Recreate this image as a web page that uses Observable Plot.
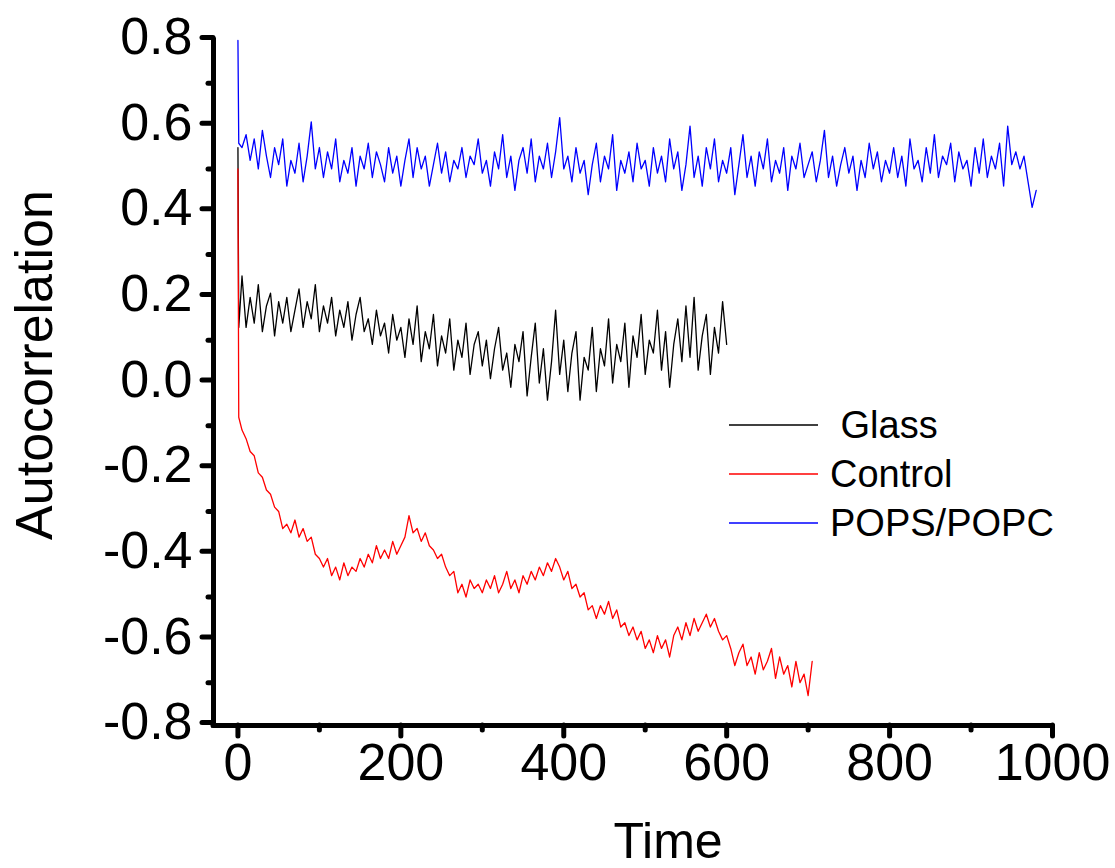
<!DOCTYPE html>
<html>
<head>
<meta charset="utf-8">
<script src="https://cdn.jsdelivr.net/npm/d3@7"></script>
<script src="https://cdn.jsdelivr.net/npm/@observablehq/plot@0.6"></script>
<style>
  html, body { margin: 0; padding: 0; background: #fff; }
  #chart svg text { white-space: pre; }
</style>
</head>
<body>
<div id="chart"></div>
<script>
// ---- data ----
const seriesNames = [" Glass", "Control", "POPS/POPC"];
const seriesColors = ["#000000", "#ff0000", "#0000ff"];

const xTicks = [0, 200, 400, 600, 800, 1000];
const xMinorTicks = [100, 300, 500, 700, 900];
const yTicks = [-0.8, -0.6, -0.4, -0.2, 0.0, 0.2, 0.4, 0.6, 0.8];
const yMinorTicks = [-0.7, -0.5, -0.3, -0.1, 0.1, 0.3, 0.5, 0.7];

const xLabel = "Time";
const yLabel = "Autocorrelation";

// first two samples (the initial spike) at t = 0 and t = 1, then every 5 time units from t = 5
const glassStart = [0.55, 0.13];
const glassValues = [
  0.25,0.13,0.20,0.14,0.23,0.12,0.18,0.21,0.11,0.19,
  0.14,0.20,0.12,0.17,0.22,0.13,0.19,0.15,0.23,0.12,
  0.18,0.14,0.20,0.11,0.17,0.13,0.19,0.10,0.16,0.20,
  0.12,0.15,0.09,0.17,0.11,0.14,0.07,0.16,0.10,0.13,
  0.06,0.15,0.09,0.18,0.05,0.12,0.08,0.16,0.04,0.11,
  0.07,0.15,0.03,0.10,0.06,0.14,0.02,0.09,0.12,0.04,
  0.10,0.01,0.08,0.13,0.03,0.07,-0.01,0.09,0.05,0.12,
  -0.03,0.06,0.14,0.00,0.08,-0.04,0.05,0.17,0.02,0.10,
  -0.02,0.07,0.12,-0.04,0.06,0.03,0.13,-0.02,0.08,0.04,
  0.15,0.00,0.09,0.05,0.14,-0.01,0.11,0.06,0.16,0.02,
  0.10,0.07,0.17,0.03,0.12,-0.01,0.09,0.15,0.05,0.18,
  0.06,0.20,0.03,0.11,0.16,0.02,0.13,0.07,0.19,0.09
];

const controlStart = [0.50, -0.08];
const controlValues = [
  -0.11,-0.13,-0.16,-0.17,-0.21,-0.22,-0.25,-0.26,-0.29,-0.30,
  -0.34,-0.33,-0.35,-0.32,-0.36,-0.34,-0.37,-0.36,-0.40,-0.41,
  -0.43,-0.41,-0.45,-0.43,-0.46,-0.42,-0.45,-0.43,-0.44,-0.41,
  -0.43,-0.40,-0.42,-0.38,-0.41,-0.39,-0.41,-0.37,-0.40,-0.38,
  -0.36,-0.31,-0.35,-0.34,-0.37,-0.35,-0.38,-0.39,-0.41,-0.40,
  -0.43,-0.45,-0.44,-0.49,-0.47,-0.50,-0.46,-0.48,-0.47,-0.49,
  -0.46,-0.48,-0.45,-0.49,-0.47,-0.44,-0.48,-0.46,-0.49,-0.45,
  -0.47,-0.44,-0.46,-0.43,-0.45,-0.42,-0.44,-0.41,-0.43,-0.46,
  -0.44,-0.48,-0.47,-0.50,-0.49,-0.53,-0.52,-0.55,-0.52,-0.54,
  -0.51,-0.55,-0.53,-0.57,-0.56,-0.59,-0.57,-0.60,-0.58,-0.62,
  -0.60,-0.63,-0.59,-0.62,-0.60,-0.64,-0.59,-0.57,-0.60,-0.56,
  -0.59,-0.55,-0.58,-0.56,-0.54,-0.57,-0.55,-0.58,-0.60,-0.59,
  -0.62,-0.66,-0.63,-0.61,-0.66,-0.64,-0.68,-0.63,-0.67,-0.65,
  -0.62,-0.69,-0.64,-0.68,-0.66,-0.71,-0.65,-0.70,-0.68,-0.73,
  -0.65
];

const popsStart = [0.80, 0.56];
const popsValues = [
  0.55,0.58,0.52,0.57,0.50,0.59,0.53,0.48,0.55,0.51,
  0.57,0.46,0.52,0.49,0.56,0.47,0.53,0.61,0.50,0.55,
  0.48,0.54,0.50,0.57,0.47,0.52,0.49,0.55,0.46,0.53,
  0.50,0.56,0.48,0.54,0.51,0.47,0.55,0.49,0.53,0.46,
  0.52,0.57,0.48,0.55,0.50,0.53,0.46,0.51,0.56,0.49,
  0.54,0.47,0.52,0.50,0.55,0.48,0.53,0.51,0.57,0.49,
  0.52,0.46,0.54,0.50,0.58,0.48,0.53,0.45,0.52,0.55,
  0.49,0.57,0.47,0.53,0.50,0.56,0.48,0.54,0.62,0.50,
  0.53,0.47,0.55,0.49,0.52,0.44,0.51,0.56,0.47,0.53,
  0.50,0.58,0.45,0.52,0.49,0.54,0.47,0.56,0.50,0.52,
  0.46,0.55,0.49,0.53,0.47,0.57,0.50,0.54,0.45,0.51,
  0.60,0.48,0.53,0.46,0.55,0.50,0.57,0.47,0.52,0.49,
  0.55,0.44,0.51,0.58,0.48,0.53,0.46,0.54,0.50,0.57,
  0.47,0.52,0.49,0.55,0.45,0.53,0.50,0.56,0.48,0.51,
  0.54,0.47,0.52,0.59,0.48,0.53,0.46,0.51,0.55,0.49,
  0.53,0.45,0.52,0.48,0.56,0.50,0.54,0.47,0.52,0.49,
  0.55,0.48,0.53,0.46,0.57,0.50,0.52,0.47,0.55,0.49,
  0.58,0.48,0.53,0.51,0.56,0.47,0.54,0.50,0.52,0.46,
  0.55,0.49,0.57,0.48,0.53,0.50,0.56,0.46,0.60,0.51,
  0.54,0.50,0.53,0.47,0.41,0.45
];

// ---- build tables ----
const STEP = 5;
function toRows(start, values, name) {
  const rows = start.map((v, i) => ({t: i, v, name}));
  values.forEach((v, i) => rows.push({t: (i + 1) * STEP, v, name}));
  return rows;
}
const glass = toRows(glassStart, glassValues, seriesNames[0]);
const control = toRows(controlStart, controlValues, seriesNames[1]);
const pops = toRows(popsStart, popsValues, seriesNames[2]);

const FONT = "'Liberation Sans', Arial, Helvetica, sans-serif";
const fmt = d => d.toFixed(1);

// legend drawn as a custom mark (pixel layout)
function legendMark(index, scales, values, dims) {
  const g = d3.create("svg:g").attr("font-family", FONT).attr("font-size", 38)
    .attr("text-anchor", "start");
  const x0 = 729, x1 = 818, tx = 830, y0 = 425, dy = 49;
  seriesNames.forEach((name, i) => {
    const y = y0 + i * dy;
    g.append("line").attr("x1", x0).attr("x2", x1).attr("y1", y).attr("y2", y)
      .attr("stroke", seriesColors[i]).attr("stroke-width", 1.3);
    g.append("text").attr("x", tx).attr("y", y).attr("dy", "0.35em")
      .attr("text-anchor", "start")
      .style("white-space", "pre").attr("fill", "#000").text(name);
  });
  return g.node();
}

const chart = Plot.plot({
  width: 1115,
  height: 868,
  marginLeft: 213,
  marginRight: 63,
  marginTop: 40,
  marginBottom: 143,
  x: {domain: [-30, 1000]},
  y: {domain: [-0.8, 0.8]},
  style: {fontFamily: FONT, background: "#fff", color: "#000"},
  marks: [
    Plot.line(glass, {x: "t", y: "v", stroke: seriesColors[0], strokeWidth: 1.3}),
    Plot.line(control, {x: "t", y: "v", stroke: seriesColors[1], strokeWidth: 1.3}),
    Plot.line(pops, {x: "t", y: "v", stroke: seriesColors[2], strokeWidth: 1.3}),
    // axis lines
    Plot.ruleX([-30], {y1: -0.8, y2: 0.8, strokeWidth: 5, strokeLinecap: "square"}),
    Plot.ruleY([-0.8], {x1: -30, x2: 1000, strokeWidth: 5, strokeLinecap: "round"}),
    // y axis
    Plot.axisY({ticks: yTicks, tickSize: 11, tickPadding: 10, strokeWidth: 5, strokeLinecap: "round",
      fontSize: 52, tickFormat: fmt, label: null, dy: -3}),
    Plot.axisY({ticks: yMinorTicks, tickSize: 5, strokeWidth: 5, strokeLinecap: "round",
      tickFormat: () => "", label: null}),
    // x axis
    Plot.axisX({ticks: xTicks, tickSize: 11, tickPadding: 7, strokeWidth: 5, strokeLinecap: "round",
      fontSize: 52, tickFormat: d => String(d), label: null}),
    Plot.axisX({ticks: xMinorTicks, tickSize: 5, strokeWidth: 5, strokeLinecap: "round",
      tickFormat: () => "", label: null}),
    // axis titles
    Plot.text([xLabel], {frameAnchor: "bottom", text: d => d, fontSize: 50, textAnchor: "middle",
      lineAnchor: "bottom", dx: 35, dy: 132, fill: "#000"}),
    Plot.text([yLabel], {frameAnchor: "left", text: d => d, fontSize: 52, rotate: -90,
      textAnchor: "middle", lineAnchor: "middle", dx: -178, dy: -18, fill: "#000"}),
    legendMark
  ]
});
document.getElementById("chart").appendChild(chart);
</script>
</body>
</html>
